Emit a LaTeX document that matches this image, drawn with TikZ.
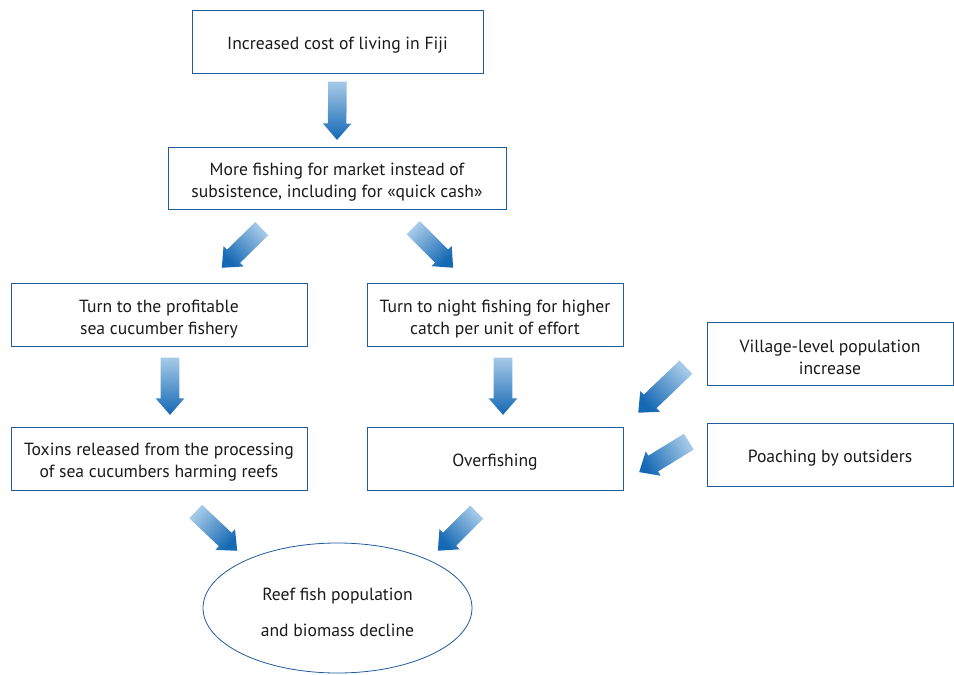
\documentclass[tikz,border=0pt]{standalone}
\usepackage{fontspec}
\setmainfont{PT Sans}
\usepackage{xcolor}
\definecolor{Frame}{HTML}{1F5C9E}
\definecolor{ArrowLight}{HTML}{A6CAE8}
\definecolor{ArrowDark}{HTML}{1468B4}
\definecolor{Ink}{HTML}{1A1A1A}
\usepackage{tikz}
\usetikzlibrary{calc,shapes.geometric,shapes.arrows}
% block arrow between two named coordinates
\newcommand{\blockarrow}[2]{%
  \path let \p1=($(#2)-(#1)$), \n1={atan2(\y1,\x1)}, \n2={veclen(\x1,\y1)} in
    node[flowarrow,rotate=\n1,minimum height=\n2,top color=ArrowDark,bottom color=ArrowLight,shading angle=\n1-90]
    at (#1) {};}

\begin{document}
\begin{tikzpicture}[
  x=0.75pt,y=-0.75pt,
  lift/.style={execute at begin node={\rule{0pt}{#1}}},
  box/.style={draw=Frame,semithick,minimum height=47.25pt,align=center,text=Ink,font=\fontsize{13.2}{16.5}\selectfont,inner sep=0pt,lift=#1},
  box/.default=32pt,
  result/.style={draw=Frame,semithick,ellipse,minimum width=201.75pt,minimum height=97.5pt,align=center,text=Ink,font=\fontsize{13.2}{27}\selectfont,inner sep=0pt,lift=42.5pt},
  flowarrow/.style={single arrow,draw=none,anchor=tail,inner xsep=0pt,inner ysep=6.75pt,single arrow head extend=3.75pt,single arrow tip angle=82,single arrow head indent=0pt}
]
\useasboundingbox (0,0) rectangle (954,675);

\node[box=15.5pt,minimum width=218.25pt] (cost) at (337.5,41.5) {Increased cost of living in Fiji};
\node[box,minimum width=253.5pt,minimum height=46.5pt] (market) at (337,178) {More fishing for market instead of\\subsistence, including for «quick cash»};
\node[box,minimum width=222pt] (cucumber) at (159,314.5) {Turn to the profitable\\sea cucumber fishery};
\node[box,minimum width=192pt] (night) at (495,314.5) {Turn to night fishing for higher\\catch per unit of effort};
\node[box,minimum width=184.5pt] (village) at (830,353.5) {Village-level population\\increase};
\node[box,minimum width=222pt] (toxins) at (159,458.5) {Toxins released from the processing\\of sea cucumbers harming reefs};
\node[box=15.5pt,minimum width=192pt] (overfish) at (495,458.5) {Overfishing};
\node[box=15.5pt,minimum width=184.5pt] (poach) at (830,454.5) {Poaching by outsiders};
\node[result] (reef) at (337.5,608) {Reef fish population\\and biomass decline};

\coordinate (a1s) at ($(cost.south)+(0,8)$);
\coordinate (a1e) at ($(market.north)+(0,-7)$);
\coordinate (a2s) at ($(market.south)+(-75,19)$);
\coordinate (a2e) at ($(cucumber.north)+(63,-15)$);
\coordinate (a3s) at ($(market.south)+(76,18)$);
\coordinate (a3e) at ($(night.north)+(-42,-15)$);
\coordinate (a4s) at ($(cucumber.south)+(11,11)$);
\coordinate (a4e) at ($(toxins.north)+(11,-12)$);
\coordinate (a5s) at ($(night.south)+(8,11)$);
\coordinate (a5e) at ($(overfish.north)+(8,-12)$);
\coordinate (a6s) at ($(village.west)+(-20.5,13.5)$);
\coordinate (a6e) at ($(overfish.north east)+(15,-14)$);
\coordinate (a7s) at ($(poach.west)+(-17.5,-13)$);
\coordinate (a7e) at ($(overfish.east)+(16,13.5)$);
\coordinate (a8s) at ($(toxins.south)+(36.5,21)$);
\coordinate (a8e) at ($(reef.north)+(-100.5,8)$);
\coordinate (a9s) at ($(overfish.south)+(-18,21.5)$);
\coordinate (a9e) at ($(reef.north)+(100.5,8)$);

\blockarrow{a1s}{a1e}
\blockarrow{a2s}{a2e}
\blockarrow{a3s}{a3e}
\blockarrow{a4s}{a4e}
\blockarrow{a5s}{a5e}
\blockarrow{a6s}{a6e}
\blockarrow{a7s}{a7e}
\blockarrow{a8s}{a8e}
\blockarrow{a9s}{a9e}
\end{tikzpicture}
\end{document}
